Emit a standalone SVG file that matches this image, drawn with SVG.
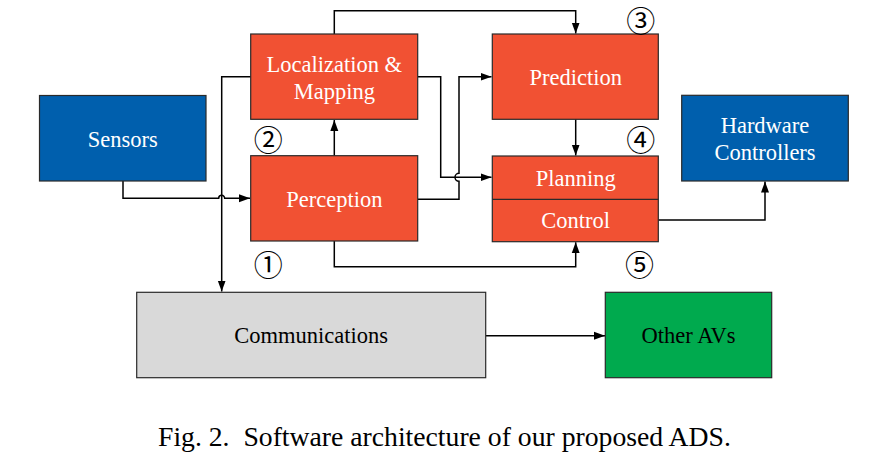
<svg xmlns="http://www.w3.org/2000/svg" width="871" height="472" viewBox="0 0 871 472">
<style>
.box{stroke:#2a2a2a;stroke-width:1.2}
.red{fill:#F15133}
.blue{fill:#005FAD}
.gray{fill:#D9D9D9}
.green{fill:#00AA4E}
.t{font-family:"Liberation Serif","Times New Roman",serif;font-size:22.5px;text-anchor:middle;dominant-baseline:central}
.w{fill:#ffffff}
.k{fill:#000000}
.num{font-family:"Noto Sans CJK JP","DejaVu Sans",sans-serif;font-size:29px;text-anchor:middle;dominant-baseline:central;fill:#000}
.c{fill:none;stroke:#000;stroke-width:1.5}
.cap{font-family:"Liberation Serif","Times New Roman",serif;font-size:27.7px;fill:#000;white-space:pre}
</style>
<defs>
<marker id="ah" markerWidth="12" markerHeight="10" refX="11" refY="5" orient="auto" markerUnits="userSpaceOnUse">
<path d="M0,1 L11,5 L0,9 Z" fill="#000"/>
</marker>
</defs>
<rect width="871" height="472" fill="#ffffff"/>
<g id="connectors">
<path class="c" d="M123,181 V198.3 H218.7 A3,3 0 0 1 224.7,198.3 H250" marker-end="url(#ah)"/>
<path class="c" d="M251,76.7 H221.7 V291.5" marker-end="url(#ah)"/>
<path class="c" d="M334.3,156 V120" marker-end="url(#ah)"/>
<path class="c" d="M334.3,34 V10.7 H575.7 V33.5" marker-end="url(#ah)"/>
<path class="c" d="M418,76.7 H440.7 V177.3 H491.5" marker-end="url(#ah)"/>
<path class="c" d="M418,199.3 H459 V181.3 A4,4 0 0 1 459,173.3 V76.7 H491.5" marker-end="url(#ah)"/>
<path class="c" d="M575.7,119.3 V155.5" marker-end="url(#ah)"/>
<path class="c" d="M334.3,241 V266.7 H575.7 V242.2" marker-end="url(#ah)"/>
<path class="c" d="M658.3,220 H765 V181.5" marker-end="url(#ah)"/>
<path class="c" d="M485.7,335.7 H605" marker-end="url(#ah)"/>
</g>
<g id="sensors">
<rect class="box blue" x="39.5" y="95.5" width="166.5" height="85.5"/>
<text class="t w" x="122.7" y="139">Sensors</text>
</g>
<g id="localization">
<rect class="box red" x="250.7" y="34" width="167" height="85.3"/>
<text class="t w" x="334.3" y="64">Localization &amp;</text>
<text class="t w" x="334.3" y="91">Mapping</text>
</g>
<g id="perception">
<rect class="box red" x="250.7" y="155.7" width="167" height="85.3"/>
<text class="t w" x="334.3" y="199">Perception</text>
</g>
<g id="prediction">
<rect class="box red" x="492.3" y="34" width="166" height="85.3"/>
<text class="t w" x="575.7" y="77">Prediction</text>
</g>
<g id="planning-control">
<rect class="box red" x="492.3" y="156" width="166" height="85.7"/>
<line class="box" x1="492.3" y1="199.3" x2="658.3" y2="199.3"/>
<text class="t w" x="575.7" y="178">Planning</text>
<text class="t w" x="575.7" y="220">Control</text>
</g>
<g id="hardware">
<rect class="box blue" x="681.7" y="95.3" width="166.6" height="85.7"/>
<text class="t w" x="765" y="125">Hardware</text>
<text class="t w" x="765" y="152">Controllers</text>
</g>
<g id="communications">
<rect class="box gray" x="136.7" y="292.3" width="349" height="85.4"/>
<text class="t k" x="311.2" y="335">Communications</text>
</g>
<g id="other-avs">
<rect class="box green" x="605.3" y="292.3" width="166.4" height="85.4"/>
<text class="t k" x="688.5" y="335">Other AVs</text>
</g>
<g id="labels">
<text class="num" x="268.3" y="263.3">①</text>
<text class="num" x="268.3" y="138">②</text>
<text class="num" x="640.7" y="18.5">③</text>
<text class="num" x="640.7" y="137.7">④</text>
<text class="num" x="639.5" y="262.7">⑤</text>
</g>
<text class="cap" x="158" y="446" xml:space="preserve">Fig. 2.  Software architecture of our proposed ADS.</text>
</svg>
